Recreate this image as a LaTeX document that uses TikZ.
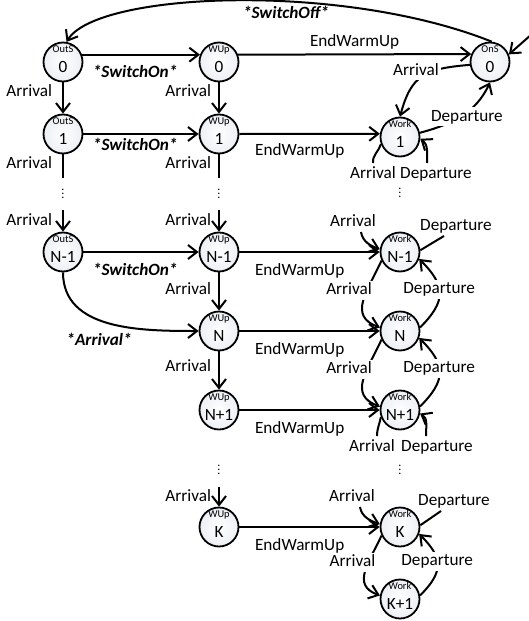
\documentclass[tikz,border=0pt]{standalone}
\usepackage{fontspec}
\setmainfont{Carlito}
\usetikzlibrary{arrows.meta}
\definecolor{stedge}{RGB}{236,239,244}
\newcommand{\lblfont}{\fontsize{8.6}{10}\selectfont}
\newcommand{\smfont}{\fontsize{5.2}{6}\selectfont}
\newcommand{\vdts}{\vbox{\fontsize{6}{1.9}\selectfont\lineskiplimit=-5pt\hbox{.}\hbox{.}\hbox{.}}}
\tikzset{
  st/.style={circle, draw, line width=0.9pt, minimum size=19.5pt, inner sep=0pt,
    inner color=white, outer color=stedge, font=\lblfont, text height=10.4pt, text depth=0pt},
  sttop/.style={st, label={[font=\smfont, text height=3.4pt, text depth=0.9pt, inner sep=0pt, yshift=6.1pt]center:#1}},
  ln/.style={line width=1pt},
  arr/.style={ln, -{Straight Barb[length=4.5pt, width=7pt]}},
  lbl/.style={font=\lblfont, inner sep=1pt, text height=6pt, text depth=1.5pt},
  wl/.style={lbl, fill=white},
  bi/.style={lbl, font=\lblfont\bfseries\itshape},
}
\begin{document}
\begin{tikzpicture}[x=0.5pt, y=0.5pt]
\useasboundingbox (0,0) rectangle (529,-621);
% states
\node[sttop=OutS] (outs0) at (63,-62) {0};
\node[sttop=WUp] (wup0) at (219,-62) {0};
\node[sttop=OnS] (ons0) at (490,-62) {0};
\node[sttop=OutS] (outs1) at (63,-134) {1};
\node[sttop=WUp] (wup1) at (219,-134) {1};
\node[sttop=Work] (work1) at (400,-137) {1};
\node[sttop=OutS] (outsn1) at (63,-252) {N-1};
\node[sttop=WUp] (wupn1) at (219,-252) {N-1};
\node[sttop=Work] (workn1) at (400,-252) {N-1};
\node[sttop=WUp] (wupn) at (219,-331) {N};
\node[sttop=Work] (workn) at (400,-331) {N};
\node[sttop=WUp] (wupnp) at (219,-410) {N+1};
\node[sttop=Work] (worknp) at (400,-410) {N+1};
\node[sttop=WUp] (wupk) at (219,-527) {K};
\node[sttop=Work] (workk) at (400,-527) {K};
\node[sttop=Work] (workkp) at (400,-599) {K+1};
% dots
\node (dt1) at (63,-194) {\vdts};
\node (dt2) at (219,-194) {\vdts};
\node (dt3) at (400,-193) {\vdts};
\node (dt4) at (219,-470) {\vdts};
\node (dt5) at (400,-470) {\vdts};
% free ends
\coordinate (o1end) at (63,-178);
\coordinate (w1end) at (219,-178);
\coordinate (onin) at (63,-210);
\coordinate (wnin) at (219,-210);
\coordinate (wkin) at (219,-487);
\coordinate (onsin) at (532,-34);
\coordinate (k1a) at (373,-163);
\coordinate (k1d) at (427,-163);
\coordinate (kn1a) at (361,-232);
\coordinate (kn1d) at (444,-236);
\coordinate (knpa) at (377,-436);
\coordinate (knpd) at (426,-436);
\coordinate (kka) at (360,-507);
\coordinate (kkd) at (441,-511);
% switch off
\draw[arr] (ons0.85) .. controls +(-150,60) and +(30,50) .. node[bi, pos=.4, below=1.25pt] (loff) {*SwitchOff*} (outs0.80);
\draw[arr] (onsin) -- (ons0.22);
% OutS column
\draw[arr] (outs0) -- node[lbl, left=4pt, pos=.3] (la1) {Arrival} (outs1);
\draw[ln] (outs1) -- node[lbl, left=4pt, pos=.39] (la2) {Arrival} (o1end);
\draw[arr] (onin) -- node[lbl, left=4pt, pos=.5] (la3) {Arrival} (outsn1);
% WUp column
\draw[arr] (wup0) -- node[lbl, left=2.5pt, pos=.3] (la4) {Arrival} (wup1);
\draw[ln] (wup1) -- node[lbl, left=2.5pt, pos=.39] (la5) {Arrival} (w1end);
\draw[arr] (wnin) -- node[lbl, left=2.5pt, pos=.5] (la6) {Arrival} (wupn1);
\draw[arr] (wupn1) -- node[lbl, left=2.5pt, pos=.46] (la7) {Arrival} (wupn);
\draw[arr] (wupn) -- node[lbl, left=2.5pt, pos=.41] (la8) {Arrival} (wupnp);
\draw[arr] (wkin) -- node[lbl, left=2.5pt, pos=.5] (la9) {Arrival} (wupk);
% switch on
\draw[arr] (outs0.21) -- node[bi, below=3.75pt, pos=.45] (lon1) {*SwitchOn*} (wup0.159);
\draw[arr] (outs1) -- node[bi, below=0.75pt, pos=.45] (lon2) {*SwitchOn*} (wup1);
\draw[arr] (outsn1) -- node[bi, below=4.25pt, pos=.45] (lon3) {*SwitchOn*} (wupn1);
\draw[arr] (outsn1.south) to[out=-90, in=180] node[bi, pos=.5, below=3.75pt, xshift=-5pt] (larr) {*Arrival*} (wupn.west);
% end warm up
\draw[arr] (wup0.21) -- node[lbl, above=0.75pt, pos=.5] (le0) {EndWarmUp} (ons0.157);
\draw[arr] (wup1.east) -- node[lbl, below=3.25pt, pos=.43] (le1) {EndWarmUp} (work1.171);
\draw[arr] (wupn1) -- node[lbl, below=4.25pt, pos=.43] (le2) {EndWarmUp} (workn1);
\draw[arr] (wupn) -- node[lbl, below=4.25pt, pos=.43] (le3) {EndWarmUp} (workn);
\draw[arr] (wupnp) -- node[lbl, below=4.25pt, pos=.43] (le4) {EndWarmUp} (worknp);
\draw[arr] (wupk) -- node[lbl, below=4.25pt, pos=.43] (le5) {EndWarmUp} (workk);
% OnS and Work 1
\draw[arr] (ons0.188) to[out=185, in=75, looseness=1.3] node[wl, pos=.45, xshift=-5pt, yshift=1.75pt] (lw0a) {Arrival} (work1.north);
\draw[arr] (work1.12) to[out=15, in=-115] node[wl, pos=.5, xshift=2.5pt, yshift=-0.5pt] (lw0d) {Departure} (ons0.south);
\draw[ln] (work1.200) to[out=-105, in=95] (k1a) node[lbl, below] (lw1a) {Arrival};
\draw[arr] (k1d) node[lbl, below, xshift=4.5pt] (lw1d) {Departure} to[out=90, in=-35] (work1.-5);
% Work N-1
\draw[arr] (kn1a) node[lbl, above, xshift=-4pt] (lwn1a) {Arrival} to[out=-80, in=160] (workn1.172);
\draw[ln] (workn1.5) -- (kn1d) node[lbl, above, xshift=6pt] (lwn1d) {Departure};
\draw[arr] (workn1.205) to[out=-115, in=160, looseness=1.3] node[wl, pos=.35, xshift=-9pt] (lwna) {Arrival} (workn.170);
\draw[arr] (workn.10) to[out=45, in=-45, looseness=1.4] node[wl, pos=.56] (lwnd) {Departure} (workn1.-20);
\draw[arr] (workn.205) to[out=-115, in=160, looseness=1.3] node[wl, pos=.35, xshift=-9pt] (lwnpa) {Arrival} (worknp.170);
\draw[arr] (worknp.10) to[out=45, in=-45, looseness=1.4] node[wl, pos=.56] (lwnpd) {Departure} (workn.-20);
\draw[ln] (worknp.200) to[out=-100, in=90] (knpa) node[lbl, below, xshift=-2.5pt] (lwnpa2) {Arrival};
\draw[arr] (knpd) node[lbl, below, xshift=5.5pt] (lwnpd2) {Departure} to[out=90, in=-30] (worknp.-10);
% Work K
\draw[arr] (kka) node[lbl, above, xshift=-4pt] (lwka) {Arrival} to[out=-80, in=160] (workk.172);
\draw[ln] (workk.5) -- (kkd) node[lbl, above, xshift=6.5pt] (lwkd) {Departure};
\draw[arr] (workk.205) to[out=-115, in=160, looseness=1.3] node[wl, pos=.35, xshift=-8pt] (lwkpa) {Arrival} (workkp.170);
\draw[arr] (workkp.10) to[out=45, in=-45, looseness=1.4] node[wl, pos=.56] (lwkpd) {Departure} (workk.-20);
\end{tikzpicture}
\end{document}
